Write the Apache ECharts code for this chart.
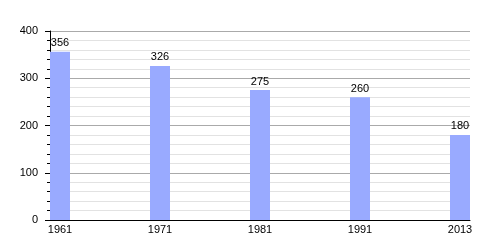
<!DOCTYPE html>
<html><head><meta charset="utf-8">
<script src="https://cdn.jsdelivr.net/npm/echarts@6/dist/echarts.min.js"></script>
<style>html,body{margin:0;padding:0;background:#fff}#c{width:500px;height:250px}</style>
</head><body><div id="c"></div>
<script>
const categories = ['1961', '1971', '1981', '1991', '2013'];
const values = [356, 326, 275, 260, 180];
const yTicks = [0, 100, 200, 300, 400];

const chart = echarts.init(document.getElementById('c'), null, {renderer: 'canvas'});
const font = 'Liberation Sans, Arial, sans-serif';
chart.setOption({
  animation: false,
  grid: {left: 50, right: 30, top: 31, bottom: 30},
  xAxis: {
    type: 'value', min: -0.1, max: categories.length - 0.9,
    axisLine: {show: true, onZero: false, lineStyle: {color: '#000', width: 1}},
    axisTick: {show: false},
    splitLine: {show: false},
    axisLabel: {
      customValues: categories.map((c, i) => i),
      formatter: v => categories[Math.round(v)],
      color: '#000', fontSize: 11, fontFamily: font, margin: 4
    }
  },
  yAxis: {
    type: 'value', min: yTicks[0], max: yTicks[yTicks.length - 1], interval: 100,
    axisLine: {show: true, onZero: false, lineStyle: {color: '#000', width: 1}},
    axisTick: {show: true, length: 5, lineStyle: {color: '#000'}},
    minorTick: {show: true, splitNumber: 5, length: 3, lineStyle: {color: '#000'}},
    splitLine: {show: true, lineStyle: {color: '#aaaaaa', width: 1}},
    minorSplitLine: {show: true, lineStyle: {color: '#e2e2e2', width: 1}},
    axisLabel: {color: '#000', fontSize: 11, fontFamily: font, margin: 12}
  },
  series: [{
    type: 'bar',
    barWidth: 20,
    data: values.map((v, i) => [i, v]),
    itemStyle: {color: '#99aaff'},
    label: {show: true, position: 'top', distance: 3, color: '#000', fontSize: 11, fontFamily: font}
  }]
});
</script></body></html>
